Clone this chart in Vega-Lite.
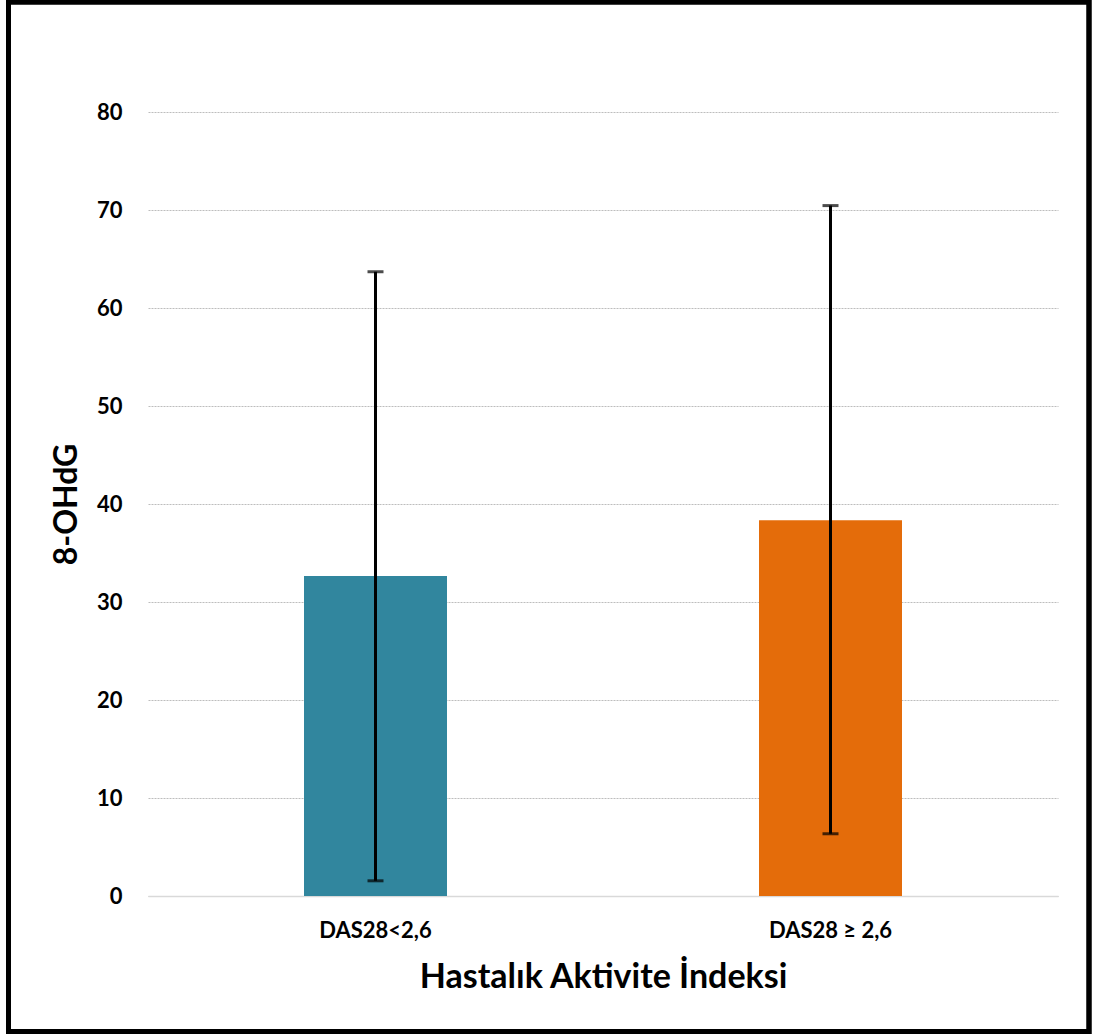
{
  "$schema": "https://vega.github.io/schema/vega-lite/v6.json",
  "width": 910,
  "height": 784,
  "autosize": {"type": "none"},
  "padding": {"left": 148, "top": 112, "right": 36, "bottom": 139},
  "background": "white",
  "config": {
    "font": "Lato",
    "view": {"stroke": null}
  },
  "data": {
    "values": [
      {"grup": "DAS28<2,6", "ortalama": 32.65, "alt": 1.55, "ust": 63.7},
      {"grup": "DAS28 ≥ 2,6", "ortalama": 38.35, "alt": 6.35, "ust": 70.45}
    ]
  },
  "encoding": {
    "x": {
      "field": "grup",
      "type": "nominal",
      "sort": null,
      "scale": {"paddingInner": 0, "paddingOuter": 0},
      "axis": {
        "title": "Hastalık Aktivite İndeksi",
        "titleFontSize": 34,
        "titleFontWeight": "bold",
        "titleColor": "black",
        "titlePadding": 19,
        "labelAngle": 0,
        "labelFontSize": 22,
        "labelFontWeight": "bold",
        "labelColor": "black",
        "labelPadding": 24,
        "ticks": false,
        "domainColor": "#d9d9d9",
        "domainWidth": 1.5,
        "grid": false
      }
    }
  },
  "layer": [
    {
      "mark": {"type": "rect", "fill": null, "stroke": "black", "strokeWidth": 5},
      "encoding": {
        "x": {"value": -139.5},
        "x2": {"value": 941},
        "y": {"value": -110},
        "y2": {"value": 919.5}
      }
    },
    {
      "mark": {"type": "bar", "size": 143},
      "encoding": {
        "y": {
          "field": "ortalama",
          "type": "quantitative",
          "scale": {"domain": [0, 80]},
          "axis": {
            "title": "8-OHdG",
            "titleFontSize": 32,
            "titleFontWeight": "bold",
            "titleColor": "black",
            "titlePadding": 13,
            "values": [0, 10, 20, 30, 40, 50, 60, 70, 80],
            "labelFontSize": 22,
            "labelFontWeight": "bold",
            "labelColor": "black",
            "labelPadding": 26,
            "ticks": false,
            "domain": false,
            "grid": true,
            "gridColor": "#bdbdbd",
            "gridDash": [2, 1],
            "gridWidth": 1
          }
        },
        "color": {
          "field": "grup",
          "type": "nominal",
          "sort": null,
          "scale": {"range": ["#31869e", "#e46c0a"]},
          "legend": null
        }
      }
    },
    {
      "mark": {"type": "rule", "color": "black", "strokeWidth": 3},
      "encoding": {
        "y": {"field": "alt", "type": "quantitative"},
        "y2": {"field": "ust"}
      }
    },
    {
      "mark": {"type": "tick", "color": "black", "size": 16, "thickness": 3},
      "encoding": {"y": {"field": "ust", "type": "quantitative"}}
    },
    {
      "mark": {"type": "tick", "color": "black", "size": 16, "thickness": 3},
      "encoding": {"y": {"field": "alt", "type": "quantitative"}}
    }
  ]
}
